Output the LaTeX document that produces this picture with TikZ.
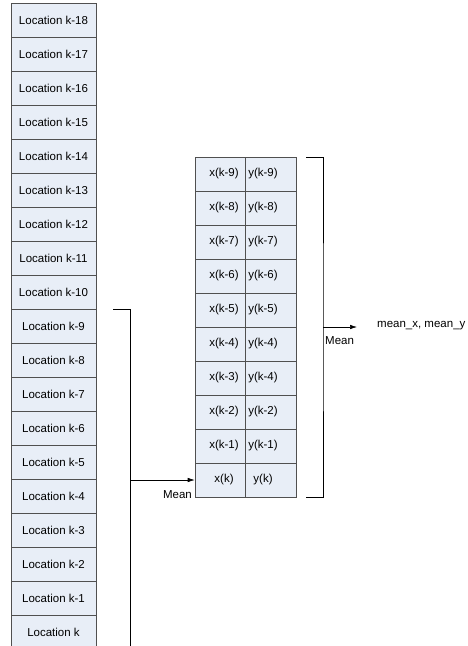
\documentclass[tikz,border=0pt]{standalone}
\usepackage{fontspec}
\setmainfont{Liberation Sans}
\usetikzlibrary{arrows.meta}
\definecolor{cellfill}{HTML}{E8EEF7}
\definecolor{celldraw}{HTML}{505050}

\begin{document}
\begin{tikzpicture}[x=1pt,y=-1pt,font=\fontsize{11.5}{13}\selectfont,
  cell/.style={draw=celldraw,fill=cellfill,line width=.6pt,inner sep=0pt,minimum height=34pt},
  meanline/.style={black,line width=.6pt},
  meanarrow/.style={meanline,-{Latex[length=7pt,width=4.5pt]}}]
\useasboundingbox (0,0) rectangle (468,646);
% left column: locations k-18 ... k
\foreach \i in {0,...,17}{
  \pgfmathtruncatemacro{\lag}{18-\i}
  \node[cell,minimum width=85pt] (loc\i) at (53.5,20+34*\i) {Location k-\lag};
}
\node[cell,minimum width=85pt] (loc18) at (53.5,632) {Location k};
% middle table: x and y over the last ten locations
\foreach \j/\xl/\yl in {0/k-9/k-9,1/k-8/k-8,2/k-7/k-7,3/k-6/k-6,4/k-5/k-5,5/k-4/k-4,6/k-3/k-4,7/k-2/k-2,8/k-1/k-1,9/k/k}{
  \node[cell,minimum width=50pt] (x\j) at (220,174+34*\j) {};
  \node[cell,minimum width=51pt] (y\j) at (270.5,174+34*\j) {};
  \node (xt\j) at ([xshift=4pt]x\j.center) {x(\xl)};
  \node (yt\j) at ([xshift=-7.5pt]y\j.center) {y(\yl)};
}
% left bracket and first mean
\coordinate (lbtop) at (113,309);
\coordinate (lbbot) at (130,646);
\draw[meanline] (lbtop) -| (lbbot);
\draw[meanarrow] (lbbot |- x9.west) -- (x9.west);
\node[anchor=east,inner sep=1pt] (mean1) at (193,495) {Mean};
% right bracket and second mean
\coordinate (rbtop) at (306,157);
\coordinate (rbbot) at (306,497);
\coordinate (rbmid) at (323,327);
\coordinate (rbtip) at (357,327);
\draw[meanline] (rbtop) -| (rbmid) |- (rbbot);
\draw[meanarrow] (rbmid) -- (rbtip);
\node[anchor=west,inner sep=1pt] (mean2) at (324,341) {Mean};
\node[anchor=west,inner sep=1pt] (result) at (376,326) {mean\_x, mean\_y};
\end{tikzpicture}
\end{document}
